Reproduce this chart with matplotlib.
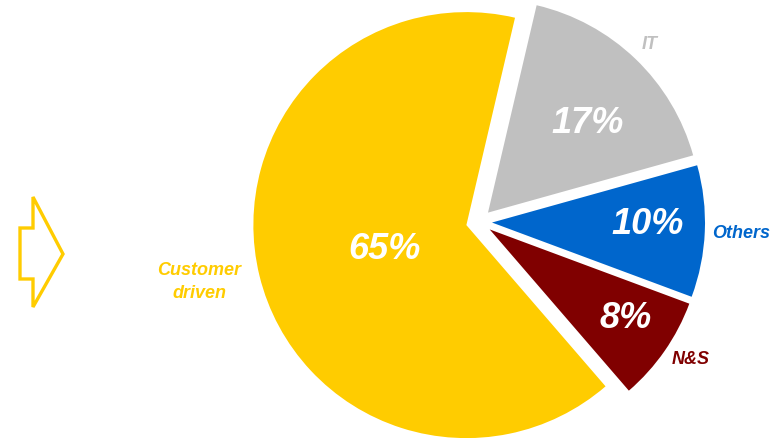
import matplotlib.pyplot as plt
from matplotlib.patches import Polygon
import numpy as np

# share of cases by origin
categories = ['Customer\ndriven', 'N&S', 'Others', 'IT']
shares = [65, 8, 10, 17]
pct_labels = ['65%', '8%', '10%', '17%']

colors = ['#FFCC00', '#800000', '#0066CC', '#C0C0C0']
label_colors = ['#FFCC00', '#800000', '#0066CC', '#C0C0C0']

plt.rcParams['font.family'] = ['Liberation Sans', 'DejaVu Sans']

W, H = 780, 439
fig = plt.figure(figsize=(W / 100, H / 100), dpi=100)
ax = fig.add_axes([0, 0, 1, 1])

R = 213
# explode is in data units here (pixels), not a fraction of the radius
wedges, _ = ax.pie(shares, colors=colors, startangle=76.8, counterclock=True,
                   radius=R, center=(479, H - 223), explode=[13] * 4,
                   wedgeprops=dict(linewidth=0))

# label placement: (distance in radii, angle tweak in degrees)
pct_pos = [(0.40, 2), (0.76, 2), (0.73, 2), (0.63, -4)]
name_pos = [(1.28, -2), (1.12, 2), (1.17, 0), (1.10, 0)]

for w, pct, name, lc, (pd, pa), (nd, na) in zip(wedges, pct_labels, categories,
                                                 label_colors, pct_pos, name_pos):
    mid = (w.theta1 + w.theta2) / 2
    cx, cy = w.center
    a = np.radians(mid + pa)
    ax.text(cx + pd * R * np.cos(a), cy + pd * R * np.sin(a), pct,
            color='white', fontsize=26, fontweight='bold', fontstyle='italic',
            ha='center', va='center')
    a = np.radians(mid + na)
    ax.text(cx + nd * R * np.cos(a), cy + nd * R * np.sin(a), name,
            color=lc, fontsize=13, fontweight='bold', fontstyle='italic',
            ha='center', va='center', linespacing=1.45)

# outlined arrow on the left
arrow = [(20, 229), (33, 229), (33, 198), (63, 255), (33, 308), (33, 280), (20, 280)]
ax.add_patch(Polygon([(x, H - y) for x, y in arrow], closed=True, fill=False,
                     edgecolor='#FFCC00', linewidth=2.4, joinstyle='miter'))

ax.set_xlim(0, W)
ax.set_ylim(0, H)
ax.set_aspect('equal')
ax.axis('off')

plt.savefig('out.png', dpi=100)
